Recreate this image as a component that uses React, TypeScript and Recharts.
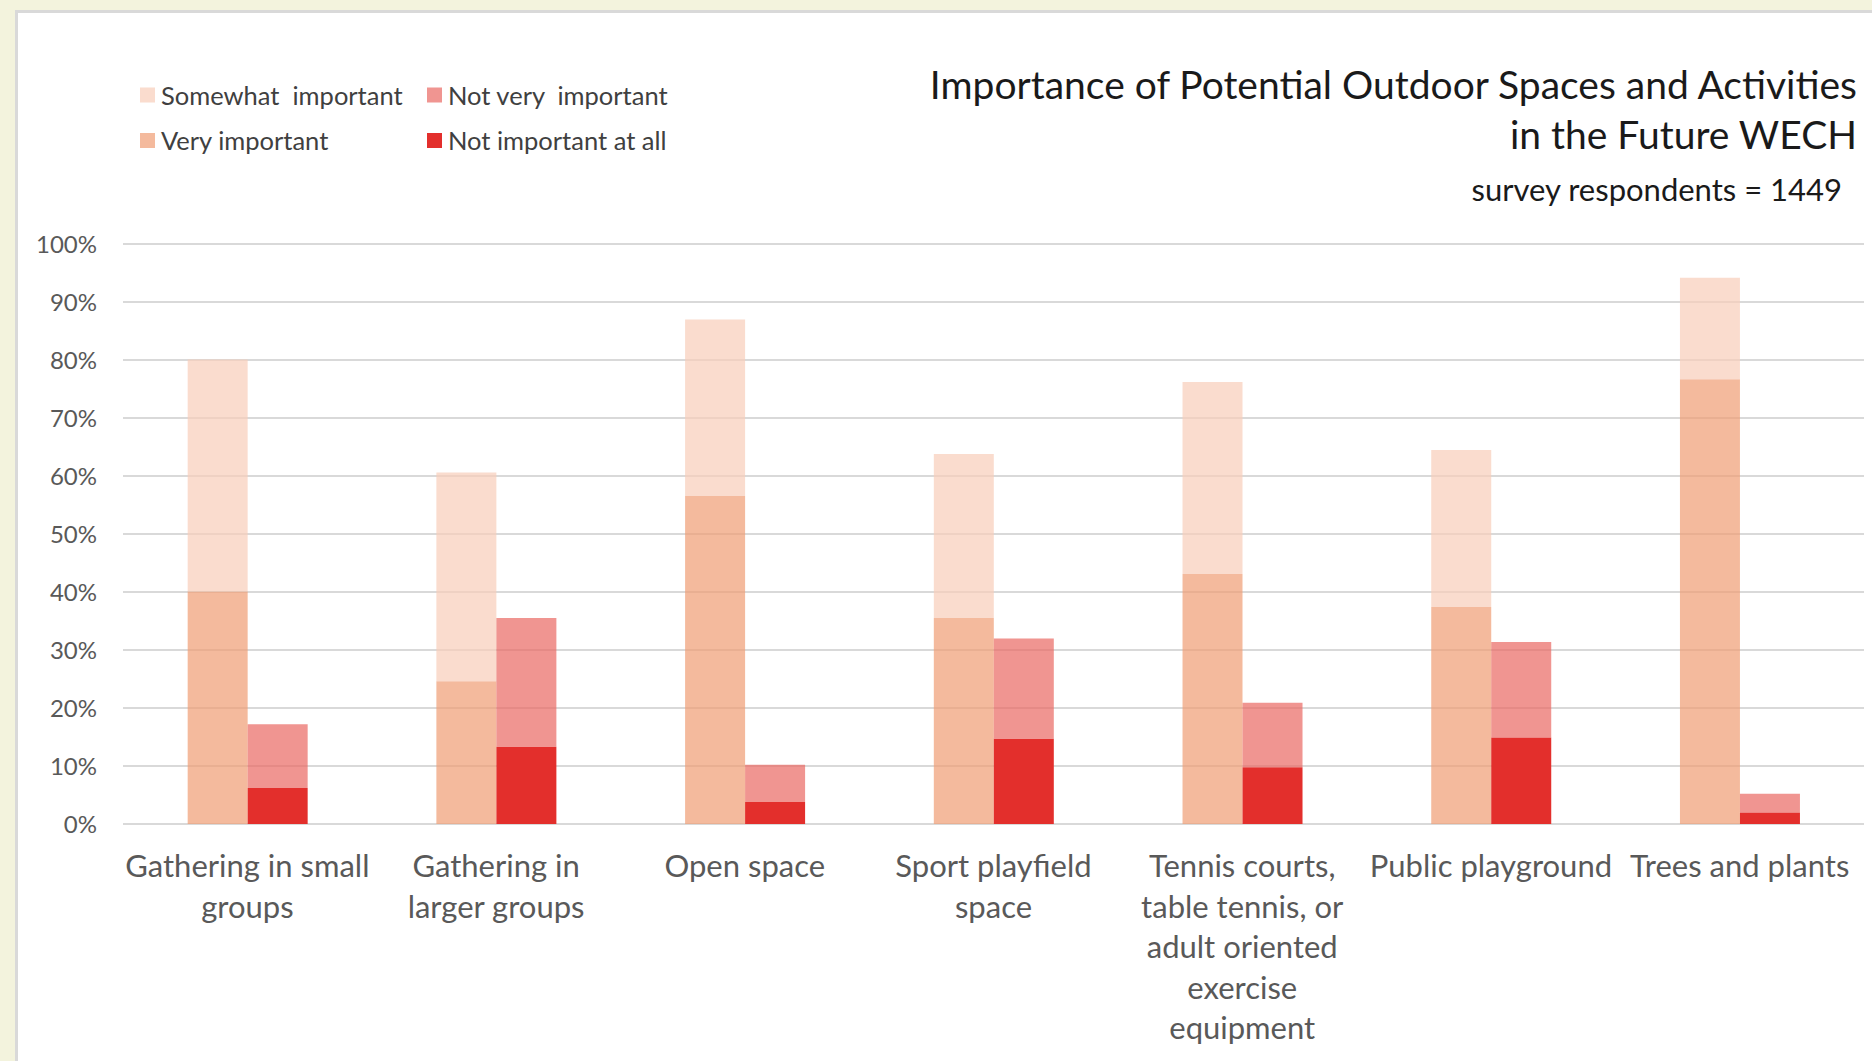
import React from 'react';
import { BarChart, Bar, XAxis, YAxis, CartesianGrid } from 'recharts';

const categories = [
  'Gathering in small\ngroups',
  'Gathering in\nlarger groups',
  'Open space',
  'Sport playfield\nspace',
  'Tennis courts,\ntable tennis, or\nadult oriented\nexercise\nequipment',
  'Public playground',
  'Trees and plants',
];
const veryImportant = [40.1, 24.6, 56.6, 35.5, 43.1, 37.4, 76.7];
const somewhatImportant = [40.0, 36.0, 30.4, 28.3, 33.1, 27.1, 17.5];
const notImportantAtAll = [6.2, 13.3, 3.8, 14.7, 9.8, 14.9, 2.0];
const notVeryImportant = [11.0, 22.2, 6.4, 17.3, 11.1, 16.5, 3.2];
const yTicks = [0, 10, 20, 30, 40, 50, 60, 70, 80, 90, 100];

const titleLines = ['Importance of Potential Outdoor Spaces and Activities', 'in the Future WECH'];
const subtitle = 'survey respondents = 1449';

const legendItems = [
  { name: 'Somewhat  important', color: '#FADCCE', col: 0, row: 0 },
  { name: 'Not very  important', color: '#F09591', col: 1, row: 0 },
  { name: 'Very important', color: '#F4BA9D', col: 0, row: 1 },
  { name: 'Not important at all', color: '#E32F2C', col: 1, row: 1 },
];

const data = categories.map((c, i) => ({
  name: c,
  very: veryImportant[i],
  somewhat: somewhatImportant[i],
  notAtAll: notImportantAtAll[i],
  notVery: notVeryImportant[i],
}));

const FONT = 'Lato, Carlito, Calibri, sans-serif';

const XTick = (props: any) => {
  const { x, y, payload } = props;
  const lines = String(payload.value).split('\n');
  return (
    <text x={x} y={y + 31} textAnchor="middle" fill="#595959" fontFamily={FONT} fontSize={31}>
      {lines.map((l: string, i: number) => (
        <tspan key={i} x={x} dy={i === 0 ? '0.71em' : 40.6}>
          {l}
        </tspan>
      ))}
    </text>
  );
};

export default function App() {
  return (
    <div style={{ position: 'fixed', left: 0, top: 0, width: 1872, height: 1061, background: '#F3F3DD', overflow: 'hidden' }}>
      <div
        style={{
          position: 'absolute',
          left: 15,
          top: 10,
          width: 1872,
          height: 1100,
          background: '#FFFFFF',
          borderLeft: '3px solid #D9D9D9',
          borderTop: '3px solid #D9D9D9',
        }}
      />
      <div style={{ position: 'absolute', left: 0, top: 0 }}>
        <BarChart
          width={1872}
          height={1061}
          data={data}
          margin={{ top: 244, right: 8, bottom: 0, left: 0 }}
          barCategoryGap="26%"
          barGap={0}
        >
          <CartesianGrid horizontal vertical={false} stroke="#D9D9D9" strokeWidth={2} />
          <XAxis
            dataKey="name"
            interval={0}
            height={237}
            axisLine={false}
            tickLine={false}
            tickSize={0}
            tickMargin={0}
            tick={<XTick />}
          />
          <YAxis
            width={123}
            domain={[0, 100]}
            ticks={yTicks}
            axisLine={false}
            tickLine={false}
            tickSize={0}
            tickMargin={26}
            tickFormatter={(v: number) => `${v}%`}
            tick={{ fill: '#595959', fontFamily: FONT, fontSize: 24 }}
          />
          <Bar dataKey="very" stackId="imp" fill="#EF9C73" fillOpacity={0.7} isAnimationActive={false} />
          <Bar dataKey="somewhat" stackId="imp" fill="#F8CDB9" fillOpacity={0.7} isAnimationActive={false} />
          <Bar dataKey="notAtAll" stackId="notimp" fill="#E32F2C" isAnimationActive={false} />
          <Bar dataKey="notVery" stackId="notimp" fill="#EA6862" fillOpacity={0.7} isAnimationActive={false} />
        </BarChart>
      </div>
      <svg
        width={1872}
        height={1061}
        style={{ position: 'absolute', left: 0, top: 0, pointerEvents: 'none' }}
      >
        {titleLines.map((t, i) => (
          <text key={i} x={1857} y={99 + i * 50} textAnchor="end" fill="#1A1A1A" fontFamily={FONT} fontSize={39}>
            {t}
          </text>
        ))}
        <text x={1842} y={201} textAnchor="end" fill="#1A1A1A" fontFamily={FONT} fontSize={31}>
          {subtitle}
        </text>
        {legendItems.map((it, i) => {
          const sx = it.col === 0 ? 140 : 427;
          const cy = it.row === 0 ? 94.5 : 140;
          return (
            <g key={i}>
              <rect x={sx} y={cy - 7} width={15} height={15} fill={it.color} />
              <text
                x={sx + 21}
                y={cy}
                dominantBaseline="central"
                fill="#404040"
                fontFamily={FONT}
                fontSize={25.5}
                style={{ whiteSpace: 'pre' }}
              >
                {it.name}
              </text>
            </g>
          );
        })}
      </svg>
    </div>
  );
}
